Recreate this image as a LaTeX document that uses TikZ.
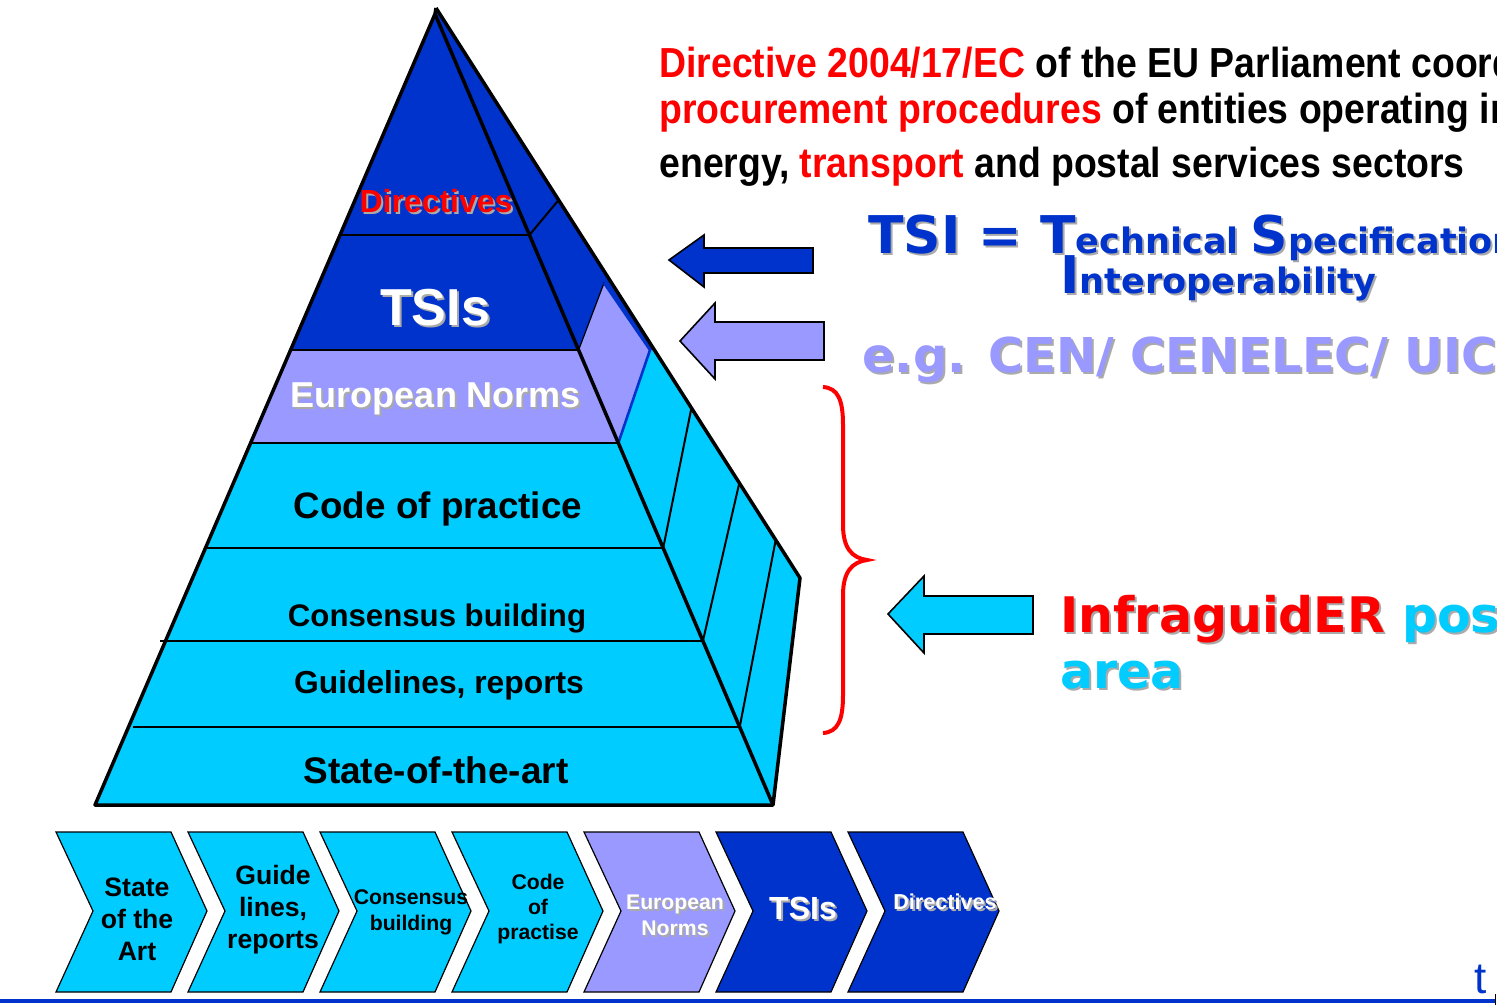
\documentclass[tikz,border=0pt]{standalone}
\usepackage{fontspec}
\setmainfont{Liberation Sans}
\newfontfamily\narrowf[FakeStretch=0.89]{Liberation Sans}
\newfontfamily\verd{DejaVu Sans}
\definecolor{dblue}{RGB}{0,51,204}
\definecolor{lav}{RGB}{153,153,255}
\definecolor{cyanb}{RGB}{0,204,255}
\definecolor{shad}{RGB}{170,170,170}
\newcommand{\shd}[2]{\makebox[0pt][l]{\kern1pt\raisebox{-1pt}{\textcolor{shad}{#2}}}\textcolor{#1}{#2}}
\newcommand{\fsz}[1]{\fontsize{#1}{#1}\selectfont}
\newcommand{\chevshape}[2]{\filldraw[chevline, fill=#2] (#1,832) -- ({#1+115},832) -- ({#1+151},911) -- ({#1+115},992) -- (#1,992) -- ({#1+37},911) -- cycle;}
\begin{document}
\begin{tikzpicture}[x=0.5pt,y=-0.5pt,
  edge/.style={line width=1.75pt, line join=round},
  sepline/.style={line width=1pt},
  chevline/.style={draw=black, line width=0.6pt, line join=miter},
  blockarrow/.style={draw=black, line width=0.8pt, line join=miter},
  bandlabel/.style={anchor=base, inner sep=0pt, font=\bfseries},
  chevlabel/.style={anchor=center, inner sep=0pt, align=center},
  rtext/.style={anchor=base west, inner sep=0pt}]
\useasboundingbox (0,0) rectangle (1497,1006);
\clip (0,0) rectangle (1497,1006);

% ---------- side face ----------
\fill[cyanb] (436,8) -- (800,578) -- (773,805) -- (435,14) -- cycle;
\fill[dblue] (436,8) -- (654.4,350) -- (650,350) -- (604,283) -- (578.6,350) -- (435,14) -- cycle;
\filldraw[fill=lav, draw=black, line width=0.6pt] (578.6,350) -- (604,283) -- (650,350) -- (618.3,443) -- cycle;
\draw[dblue, line width=1.3pt] (604,283) -- (650,350) -- (618.3,443);

% ---------- front face ----------
\fill[dblue] (435,14) -- (578.6,350) -- (290.6,350) -- cycle;
\fill[lav] (290.6,350) -- (578.6,350) -- (618.3,443) -- (250.6,443) -- cycle;
\fill[cyanb] (250.6,443) -- (618.3,443) -- (773,805) -- (95,805) -- cycle;

% band separators
\draw[sepline] (340,235) -- (529.4,235);
\draw[sepline] (290.6,350) -- (578.6,350);
\draw[sepline] (250.6,443) -- (618.3,443);
\draw[sepline] (205.5,548) -- (663.2,548);
\draw[sepline] (160,641) -- (702.9,641);
\draw[sepline] (133,727) -- (739.7,727);

% side separators
\draw[sepline] (529.4,235) -- (558.6,200);
\draw[sepline] (663.2,548) -- (691.4,408);
\draw[sepline] (702.9,641) -- (739.3,483);
\draw[sepline] (739.7,727) -- (775.7,540);

% edges
\draw[edge] (435,14) -- (773,805);
\draw[edge] (436,8) -- (800,578) -- (773,805) -- (95,805) -- (435,14) -- (436,8);

% ---------- band labels ----------
\node[bandlabel, font=\bfseries\fsz{16}] (lDir) at (436,212) {\shd{red}{Directives}};
\node[bandlabel, font=\bfseries\fsz{26}] (lTSI) at (435,325) {\shd{white}{TSIs}};
\node[bandlabel, font=\bfseries\fsz{18}] (lEN) at (436,407) {\shd{white}{European Norms}};
\node[bandlabel, font=\bfseries\fsz{18.4}] (lCode) at (438,518) {Code of practice};
\node[bandlabel, font=\bfseries\fsz{15.6}] (lCons) at (437,626) {Consensus building};
\node[bandlabel, font=\bfseries\fsz{15.9}] (lGuide) at (439,693) {Guidelines, reports};
\node[bandlabel, font=\bfseries\fsz{18.5}] (lSota) at (436,783) {State-of-the-art};

% ---------- block arrows ----------
\filldraw[blockarrow, fill=dblue] (669,260) -- (704,235) -- (704,248) -- (813,248) -- (813,273) -- (704,273) -- (704,287) -- cycle;
\filldraw[blockarrow, fill=lav] (680,341) -- (715,303) -- (715,322) -- (824,322) -- (824,360) -- (715,360) -- (715,379) -- cycle;
\filldraw[blockarrow, fill=cyanb] (888,614) -- (924,576) -- (924,596) -- (1033,596) -- (1033,634) -- (924,634) -- (924,653) -- cycle;

% ---------- brace ----------
\draw[red, line width=2pt] (823,387) .. controls (838,388) and (843,400) .. (843,425) -- (843,525)
  .. controls (843,548) and (852,558) .. (867,560)
  .. controls (852,562) and (843,572) .. (843,595) -- (843,695)
  .. controls (843,720) and (838,732) .. (823,733);

% ---------- right texts ----------
\node[rtext, font=\narrowf\bfseries\fsz{21}] (t1) at (659,77) {\textcolor{red}{Directive 2004/17/EC} of the EU Parliament coordinating the};
\node[rtext, font=\narrowf\bfseries\fsz{21}] (t2) at (659,123) {\textcolor{red}{procurement procedures} of entities operating in the water,};
\node[rtext, font=\narrowf\bfseries\fsz{21}] (t3) at (659,177) {energy, \textcolor{red}{transport} and postal services sectors};

\node[rtext, font=\verd\bfseries] (tsi1) at (868,253) {\shd{dblue}{\fsz{26}TSI = T\fsz{17.5}echnical \fsz{26}S\fsz{17.5}pecification for}};
\node[rtext, font=\verd\bfseries] (tsi2) at (1060,293) {\shd{dblue}{\fsz{26}I\fsz{17.5}nteroperability}};
\node[rtext, font=\verd\bfseries\fsz{24}] (eg) at (862,372) {\shd{lav}{e.g. CEN/ CENELEC/ UIC}};
\node[rtext, font=\verd\bfseries\fsz{24.5}] (inf1) at (1060,632) {\shd{red}{InfraguidER} \shd{cyanb}{positioning}};
\node[rtext, font=\verd\bfseries\fsz{24.5}] (inf2) at (1060,688) {\shd{cyanb}{area}};

% ---------- chevrons ----------
\chevshape{56}{cyanb}
\chevshape{188}{cyanb}
\chevshape{320}{cyanb}
\chevshape{452}{cyanb}
\chevshape{584}{lav}
\chevshape{716}{dblue}
\chevshape{848}{dblue}

\node[chevlabel, font=\bfseries\fontsize{13.3}{16}\selectfont] (c1) at (137,919) {State\\of the\\Art};
\node[chevlabel, font=\bfseries\fontsize{13.3}{16}\selectfont] (c2) at (273,910) {Guide\\lines,\\reports};
\node[chevlabel, font=\bfseries\fontsize{10.6}{13}\selectfont] (c3) at (411,912) {Consensus\\building};
\node[chevlabel, font=\bfseries\fontsize{10.6}{12.5}\selectfont] (c4) at (538,909) {Code\\of\\practise};
\node[chevlabel, font=\bfseries\fontsize{10.6}{13}\selectfont] (c5) at (675,916) {\shd{white}{European}\\\shd{white}{Norms}};
\node[chevlabel, font=\bfseries\fsz{16}] (c6) at (803,909) {\shd{white}{TSIs}};
\node[chevlabel, font=\bfseries\fsz{10.8}] (c7) at (945,903) {\shd{white}{Directives}};

% ---------- footer ----------
\node[rtext, font=\fsz{22}, text=dblue] (pg) at (1474,993) {t};
\coordinate (footL) at (0,1001);
\coordinate (footR) at (1495,1001);
\draw[dblue, line width=1.7pt] (footL) -- (footR);
\draw[black, line width=0.5pt] (1495,994) -- (1495,1005);
\end{tikzpicture}
\end{document}
